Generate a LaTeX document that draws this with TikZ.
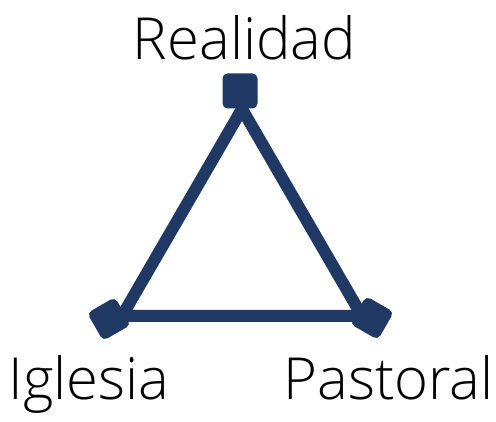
\documentclass[tikz,border=0pt]{standalone}
\usepackage{fontspec}
\newfontfamily\labelfont{Open Sans Light}
\usetikzlibrary{positioning}
\definecolor{navy}{RGB}{31,56,100}
\tikzset{
	corner/.style={rectangle, fill=navy, rounded corners=5pt, inner sep=0pt},
	side/.style={draw=navy, line width=12pt, line join=miter},
	word/.style={font=\labelfont\fontsize{58}{60}\selectfont, anchor=base, inner sep=0pt}
}

\begin{document}
\begin{tikzpicture}[x=1pt, y=1pt]
		\useasboundingbox (0,0) rectangle (496,421);
		\coordinate (top) at (242,312);
		\coordinate (left) at (122,105);
		\coordinate (right) at (362,105);
		\path[side] (top) -- (left) -- (right) -- cycle;
		\node (topsq) [corner, minimum size=35pt] at (240,330) {};
		\node (leftsq) [corner, minimum size=32pt, rotate=30] at (109,102) {};
		\node (rightsq) [corner, minimum size=32pt, rotate=-30] at (372,103) {};
		\node (realidad) [word] at (244.5,361) {Realidad};
		\node (iglesia) [word] at (89,21) {Iglesia};
		\node (pastoral) [word] at (388.5,21) {Pastoral};
	\end{tikzpicture}
\end{document}
